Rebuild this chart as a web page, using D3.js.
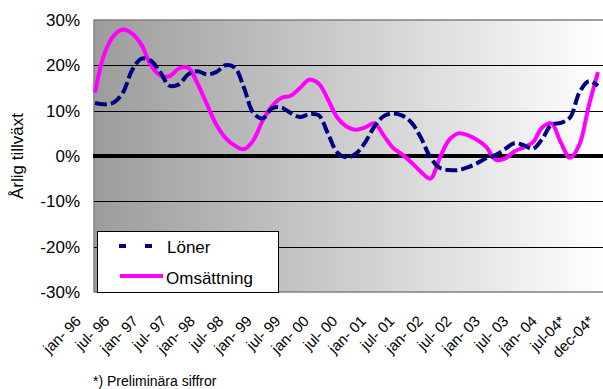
<!DOCTYPE html>
<html>
<head>
<meta charset="utf-8">
<script src="https://cdn.jsdelivr.net/npm/d3@7"></script>
<style>
  body { margin: 0; background: #fff; }
  text { font-family: Arial, "Liberation Sans", sans-serif; fill: #000; }
</style>
</head>
<body>
<div id="chart"></div>
<script>
// tick labels on the category axis (every 6 months)
const tickLabels = ["jan- 96", "jul- 96", "jan- 97", "jul- 97", "jan- 98", "jul- 98", "jan- 99", "jul- 99",
  "jan- 00", "jul- 00", "jan- 01", "jul- 01", "jan- 02", "jul- 02", "jan- 03", "jul- 03", "jan- 04", "jul-04*", "dec-04*"];

// month index since jan-96, one reading every second month
const months = d3.range(0, 109, 2);

// Löner, årlig tillväxt in %
const loner = [11.7, 11.4, 11.8, 14, 19, 21.5, 21, 18.5, 15.5, 15.8, 18, 18.7, 18, 18.5, 20, 19.5,
  15, 9.5, 8.3, 10.5, 10.7, 9.5, 8.6, 9.2, 9, 5, 0.8, -0.3, 0.5, 3, 6.5, 8.8, 9.4, 8.9, 7.3, 4,
  -0.3, -2.6, -3.1, -3.1, -2.5, -1.6, -0.5, 0.2, 1.5, 2.8, 2.4, 1.6, 3.7, 6.9, 7.3, 8.5, 14, 16.5, 15.5];

// Omsättning, årlig tillväxt in %
const omsattning = [14, 22.5, 26.5, 27.9, 27, 24.5, 20, 17.8, 17.6, 19.3, 19.5, 16, 11.5, 7, 4, 2.3,
  1.5, 3.5, 7.8, 11, 12.8, 13.3, 15, 16.8, 16, 12.5, 8.5, 6.5, 5.8, 6.3, 7.2, 4.5, 1.8, 0.3, -1.5, -3.5,
  -5, -0.5, 3.5, 5, 4.6, 3.6, 2, -0.8, -0.6, 1, 1.9, 3, 6.3, 7.2, 3, -0.4, 2.5, 11, 18.5];

const yTicks = [30, 20, 10, 0, -10, -20, -30];

const width = 603, height = 389;
const plot = { left: 94, right: 604, top: 20, bottom: 292 };

const svg = d3.select("#chart").append("svg")
  .attr("width", width)
  .attr("height", height);

const x = d3.scaleLinear().domain([0, 108]).range([95, 598]);
const y = d3.scaleLinear().domain([-30, 30]).range([plot.bottom, plot.top]);
const xLab = d3.scalePoint().domain(tickLabels).range([82, 595]);

// gray gradient background
const grad = svg.append("defs").append("linearGradient")
  .attr("id", "bg").attr("x1", "0%").attr("x2", "100%").attr("y1", "0%").attr("y2", "0%");
grad.append("stop").attr("offset", "0%").attr("stop-color", "#9c9c9c");
grad.append("stop").attr("offset", "100%").attr("stop-color", "#ffffff");

svg.append("rect")
  .attr("x", plot.left).attr("y", plot.top)
  .attr("width", plot.right - plot.left).attr("height", plot.bottom - plot.top)
  .attr("fill", "url(#bg)")
  .attr("stroke", "#808080")
  .attr("stroke-width", 1.5);

// gridlines
svg.selectAll(".grid")
  .data(yTicks.filter(d => d !== 0 && Math.abs(d) !== 30))
  .enter().append("line")
  .attr("x1", plot.left).attr("x2", plot.right)
  .attr("y1", d => Math.round(y(d)) + 0.5).attr("y2", d => Math.round(y(d)) + 0.5)
  .attr("stroke", "#000").attr("stroke-width", 1);

// y tick labels
svg.selectAll(".ylab")
  .data(yTicks)
  .enter().append("text")
  .attr("x", 80)
  .attr("y", d => y(d))
  .attr("dy", "0.36em")
  .attr("text-anchor", "end")
  .style("font-size", "17px")
  .text(d => d + "%");

// y title
svg.append("text")
  .attr("transform", "translate(23,156) rotate(-90)")
  .attr("text-anchor", "middle")
  .style("font-size", "17px")
  .text("Årlig tillväxt");

// x tick labels
svg.selectAll(".xlab")
  .data(tickLabels)
  .enter().append("text")
  .attr("transform", d => `translate(${xLab(d)},322) rotate(-45)`)
  .attr("text-anchor", "end")
  .style("font-size", "15px")
  .text(d => d);

// zero line
svg.append("line")
  .attr("x1", 93).attr("x2", plot.right)
  .attr("y1", y(0)).attr("y2", y(0))
  .attr("stroke", "#000").attr("stroke-width", 4);

const line = vals => d3.line()
  .x((d, i) => x(months[i]))
  .y(d => y(d))
  .curve(d3.curveCatmullRom)(vals);

svg.append("path")
  .attr("d", line(omsattning))
  .attr("fill", "none")
  .attr("stroke", "#ff00ff")
  .attr("stroke-width", 4);

svg.append("path")
  .attr("d", line(loner))
  .attr("fill", "none")
  .attr("stroke", "#000080")
  .attr("stroke-width", 4)
  .attr("stroke-dasharray", "12,4");

// legend
const leg = svg.append("g");
leg.append("rect")
  .attr("x", 97.5).attr("y", 231.5)
  .attr("width", 181).attr("height", 61)
  .attr("fill", "#fff").attr("stroke", "#000").attr("stroke-width", 1);
leg.append("line")
  .attr("x1", 119).attr("x2", 153).attr("y1", 246).attr("y2", 246)
  .attr("stroke", "#000080").attr("stroke-width", 4)
  .attr("stroke-dasharray", "7,19");
leg.append("text").attr("x", 167).attr("y", 253).style("font-size", "17px").text("Löner");
leg.append("line")
  .attr("x1", 120).attr("x2", 163).attr("y1", 276).attr("y2", 276)
  .attr("stroke", "#ff00ff").attr("stroke-width", 4);
leg.append("text").attr("x", 166).attr("y", 283.5).style("font-size", "17px").text("Omsättning");

// footnote
svg.append("text")
  .attr("x", 93).attr("y", 386)
  .style("font-size", "14px")
  .text("*) Preliminära siffror");
</script>
</body>
</html>
